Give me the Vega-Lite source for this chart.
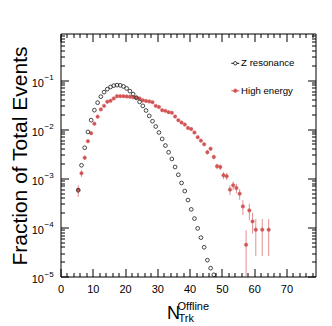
{
  "$schema": "https://vega.github.io/schema/vega-lite/v6.json",
  "width": 255,
  "height": 243,
  "autosize": {"type": "none"},
  "padding": {"left": 60.5, "top": 33.5, "right": 16.5, "bottom": 49.5},
  "background": "white",
  "config": {
    "font": "Liberation Sans",
    "view": {"stroke": "#000", "strokeWidth": 1},
    "axis": {"domain": false, "grid": false, "tickColor": "#000", "tickWidth": 1, "labelColor": "#000", "titleColor": "#000", "titleFontWeight": "normal", "labelFont": "Liberation Sans", "titleFont": "Liberation Sans", "labelFlush": false, "labelOverlap": false, "labelBound": false}
  },
  "datasets": {
    "z": [
      {"x": 5.5, "y": 0.000569, "series": "Z resonance"},
      {"x": 6.5, "y": 0.001842, "series": "Z resonance"},
      {"x": 7.5, "y": 0.00419, "series": "Z resonance"},
      {"x": 8.5, "y": 0.00881, "series": "Z resonance"},
      {"x": 9.5, "y": 0.01527, "series": "Z resonance"},
      {"x": 10.5, "y": 0.02442, "series": "Z resonance"},
      {"x": 11.5, "y": 0.03474, "series": "Z resonance"},
      {"x": 12.5, "y": 0.04604, "series": "Z resonance"},
      {"x": 13.5, "y": 0.05689, "series": "Z resonance"},
      {"x": 14.5, "y": 0.06553, "series": "Z resonance"},
      {"x": 15.5, "y": 0.07263, "series": "Z resonance"},
      {"x": 16.5, "y": 0.07721, "series": "Z resonance"},
      {"x": 17.5, "y": 0.07907, "series": "Z resonance"},
      {"x": 18.5, "y": 0.07833, "series": "Z resonance"},
      {"x": 19.5, "y": 0.07436, "series": "Z resonance"},
      {"x": 20.5, "y": 0.06769, "series": "Z resonance"},
      {"x": 21.5, "y": 0.05963, "series": "Z resonance"},
      {"x": 22.5, "y": 0.05181, "series": "Z resonance"},
      {"x": 23.5, "y": 0.04375, "series": "Z resonance"},
      {"x": 24.5, "y": 0.03607, "series": "Z resonance"},
      {"x": 25.5, "y": 0.02988, "series": "Z resonance"},
      {"x": 26.5, "y": 0.02407, "series": "Z resonance"},
      {"x": 27.5, "y": 0.01867, "series": "Z resonance"},
      {"x": 28.5, "y": 0.01456, "series": "Z resonance"},
      {"x": 29.5, "y": 0.01135, "series": "Z resonance"},
      {"x": 30.5, "y": 0.00857, "series": "Z resonance"},
      {"x": 31.5, "y": 0.00634, "series": "Z resonance"},
      {"x": 32.5, "y": 0.00465, "series": "Z resonance"},
      {"x": 33.5, "y": 0.00339, "series": "Z resonance"},
      {"x": 34.5, "y": 0.00248, "series": "Z resonance"},
      {"x": 35.5, "y": 0.0017, "series": "Z resonance"},
      {"x": 36.5, "y": 0.001179, "series": "Z resonance"},
      {"x": 37.5, "y": 0.000802, "series": "Z resonance"},
      {"x": 38.5, "y": 0.00055, "series": "Z resonance"},
      {"x": 39.5, "y": 0.000361, "series": "Z resonance"},
      {"x": 40.5, "y": 0.000233, "series": "Z resonance"},
      {"x": 41.5, "y": 0.0001512, "series": "Z resonance"},
      {"x": 42.5, "y": 0.0000954, "series": "Z resonance"},
      {"x": 43.5, "y": 0.0000619, "series": "Z resonance"},
      {"x": 44.5, "y": 0.0000394, "series": "Z resonance"},
      {"x": 45.5, "y": 0.0000215, "series": "Z resonance"},
      {"x": 46.5, "y": 0.00001477, "series": "Z resonance"},
      {"x": 47.5, "y": 0.00001083, "series": "Z resonance"}
    ],
    "he": [
      {"x": 5.5, "y": 0.000583, "lo": 0.00042, "hi": 0.00072, "series": "High energy"},
      {"x": 6.5, "y": 0.001265, "lo": 0.00107, "hi": 0.00146, "series": "High energy"},
      {"x": 7.5, "y": 0.00262, "lo": 0.00234, "hi": 0.0029, "series": "High energy"},
      {"x": 8.5, "y": 0.00569, "lo": 0.00528, "hi": 0.0061, "series": "High energy"},
      {"x": 9.5, "y": 0.00829, "lo": 0.00779, "hi": 0.00879, "series": "High energy"},
      {"x": 10.5, "y": 0.01295, "lo": 0.01233, "hi": 0.01357, "series": "High energy"},
      {"x": 11.5, "y": 0.01799, "lo": 0.01726, "hi": 0.01872, "series": "High energy"},
      {"x": 12.5, "y": 0.02535, "lo": 0.02448, "hi": 0.02622, "series": "High energy"},
      {"x": 13.5, "y": 0.02988, "lo": 0.02893, "hi": 0.03083, "series": "High energy"},
      {"x": 14.5, "y": 0.0364, "lo": 0.03535, "hi": 0.03745, "series": "High energy"},
      {"x": 15.5, "y": 0.03781, "lo": 0.03674, "hi": 0.03888, "series": "High energy"},
      {"x": 16.5, "y": 0.04232, "lo": 0.04119, "hi": 0.04345, "series": "High energy"},
      {"x": 17.5, "y": 0.04715, "lo": 0.04596, "hi": 0.04834, "series": "High energy"},
      {"x": 18.5, "y": 0.04715, "lo": 0.04596, "hi": 0.04834, "series": "High energy"},
      {"x": 19.5, "y": 0.04715, "lo": 0.04596, "hi": 0.04834, "series": "High energy"},
      {"x": 20.5, "y": 0.04648, "lo": 0.0453, "hi": 0.04766, "series": "High energy"},
      {"x": 21.5, "y": 0.04561, "lo": 0.04444, "hi": 0.04678, "series": "High energy"},
      {"x": 22.5, "y": 0.04456, "lo": 0.0434, "hi": 0.04572, "series": "High energy"},
      {"x": 23.5, "y": 0.04393, "lo": 0.04278, "hi": 0.04508, "series": "High energy"},
      {"x": 24.5, "y": 0.04232, "lo": 0.04119, "hi": 0.04345, "series": "High energy"},
      {"x": 25.5, "y": 0.0387, "lo": 0.03762, "hi": 0.03978, "series": "High energy"},
      {"x": 26.5, "y": 0.03763, "lo": 0.03657, "hi": 0.03869, "series": "High energy"},
      {"x": 27.5, "y": 0.03674, "lo": 0.03569, "hi": 0.03779, "series": "High energy"},
      {"x": 28.5, "y": 0.03556, "lo": 0.03453, "hi": 0.03659, "series": "High energy"},
      {"x": 29.5, "y": 0.02988, "lo": 0.02893, "hi": 0.03083, "series": "High energy"},
      {"x": 30.5, "y": 0.02838, "lo": 0.02746, "hi": 0.0293, "series": "High energy"},
      {"x": 31.5, "y": 0.02442, "lo": 0.02356, "hi": 0.02528, "series": "High energy"},
      {"x": 32.5, "y": 0.02363, "lo": 0.02279, "hi": 0.02447, "series": "High energy"},
      {"x": 33.5, "y": 0.02223, "lo": 0.02141, "hi": 0.02305, "series": "High energy"},
      {"x": 34.5, "y": 0.02161, "lo": 0.0208, "hi": 0.02242, "series": "High energy"},
      {"x": 35.5, "y": 0.01816, "lo": 0.01742, "hi": 0.0189, "series": "High energy"},
      {"x": 36.5, "y": 0.01527, "lo": 0.01459, "hi": 0.01595, "series": "High energy"},
      {"x": 37.5, "y": 0.01364, "lo": 0.013, "hi": 0.01428, "series": "High energy"},
      {"x": 38.5, "y": 0.01241, "lo": 0.0118, "hi": 0.01302, "series": "High energy"},
      {"x": 39.5, "y": 0.01063, "lo": 0.01007, "hi": 0.01119, "series": "High energy"},
      {"x": 40.5, "y": 0.01005, "lo": 0.0095, "hi": 0.0106, "series": "High energy"},
      {"x": 41.5, "y": 0.00857, "lo": 0.00806, "hi": 0.00908, "series": "High energy"},
      {"x": 42.5, "y": 0.00687, "lo": 0.00642, "hi": 0.00732, "series": "High energy"},
      {"x": 43.5, "y": 0.00585, "lo": 0.00543, "hi": 0.00627, "series": "High energy"},
      {"x": 44.5, "y": 0.00492, "lo": 0.00454, "hi": 0.0053, "series": "High energy"},
      {"x": 45.5, "y": 0.00339, "lo": 0.00307, "hi": 0.00371, "series": "High energy"},
      {"x": 46.5, "y": 0.004, "lo": 0.00365, "hi": 0.00435, "series": "High energy"},
      {"x": 47.5, "y": 0.00272, "lo": 0.00243, "hi": 0.00301, "series": "High energy"},
      {"x": 48.5, "y": 0.001757, "lo": 0.001527, "hi": 0.001987, "series": "High energy"},
      {"x": 49.5, "y": 0.0017, "lo": 0.001474, "hi": 0.001926, "series": "High energy"},
      {"x": 50.5, "y": 0.001151, "lo": 0.000965, "hi": 0.001337, "series": "High energy"},
      {"x": 51.5, "y": 0.001099, "lo": 0.000917, "hi": 0.001281, "series": "High energy"},
      {"x": 52.5, "y": 0.000588, "lo": 0.000455, "hi": 0.000721, "series": "High energy"},
      {"x": 53.5, "y": 0.00072, "lo": 0.000573, "hi": 0.000867, "series": "High energy"},
      {"x": 54.5, "y": 0.000634, "lo": 0.000496, "hi": 0.000772, "series": "High energy"},
      {"x": 55.5, "y": 0.000487, "lo": 0.000366, "hi": 0.000608, "series": "High energy"},
      {"x": 56.5, "y": 0.000268, "lo": 0.000178, "hi": 0.000358, "series": "High energy"},
      {"x": 57.5, "y": 0.0000443, "lo": 0.000001, "hi": 0.0000869, "series": "High energy"},
      {"x": 58.5, "y": 0.000222, "lo": 0.00014, "hi": 0.000304, "series": "High energy"},
      {"x": 59.5, "y": 0.0001326, "lo": 0.000075, "hi": 0.0002, "series": "High energy"},
      {"x": 60.5, "y": 0.0000898, "lo": 0.000026, "hi": 0.000148, "series": "High energy"},
      {"x": 62.5, "y": 0.0000898, "lo": 0.000026, "hi": 0.000148, "series": "High energy"},
      {"x": 64.5, "y": 0.0000898, "lo": 0.000026, "hi": 0.000148, "series": "High energy"}
    ]
  },
  "layer": [
    {
      "data": {"name": "he"},
      "mark": {"type": "rule", "color": "#d35454", "opacity": 0.65, "strokeWidth": 1, "clip": true},
      "encoding": {
        "x": {"field": "x", "type": "quantitative", "scale": {"domain": [0, 79], "nice": false, "zero": false},
          "axis": {"orient": "top", "values": [0,2,4,6,8,10,12,14,16,18,20,22,24,26,28,30,32,34,36,38,40,42,44,46,48,50,52,54,56,58,60,62,64,66,68,70,72,74,76,78],
            "tickSize": {"condition": {"test": "datum.value % 10 === 0", "value": -8}, "value": -4},
            "labels": false, "title": "Offline", "titleFontSize": 11, "titleX": 116.5, "titleY": 276, "titleAlign": "left", "titleBaseline": "alphabetic", "titleAngle": 0}},
        "y": {"field": "lo", "type": "quantitative", "scale": {"type": "log", "domain": [0.00001, 0.89], "nice": false},
          "axis": {"orient": "right", "values": [0.00001,0.00002,0.00003,0.00004,0.00005,0.00006,0.00007,0.00008,0.00009,0.0001,0.0002,0.0003,0.0004,0.0005,0.0006,0.0007,0.0008,0.0009,0.001,0.002,0.003,0.004,0.005,0.006,0.007,0.008,0.009,0.01,0.02,0.03,0.04,0.05,0.06,0.07,0.08,0.09,0.1,0.2,0.3,0.4,0.5,0.6,0.7,0.8],
            "tickSize": {"condition": {"test": "abs(log(datum.value)/LN10 - round(log(datum.value)/LN10)) < 0.001", "value": -8}, "value": -4},
            "labels": false, "title": null}},
        "y2": {"field": "hi"}
      }
    },
    {
      "data": {"name": "he"},
      "mark": {"type": "point", "shape": "circle", "size": 12, "strokeWidth": 0.5, "opacity": 1},
      "encoding": {
        "x": {"field": "x", "type": "quantitative", "scale": {"domain": [0, 79], "nice": false, "zero": false},
          "axis": {"orient": "bottom", "ticks": false, "labels": false, "title": "Trk", "titleFontSize": 11, "titleX": 117.5, "titleY": 44.5, "titleAlign": "left", "titleBaseline": "alphabetic", "titleAngle": 0}},
        "y": {"field": "y", "type": "quantitative", "scale": {"type": "log", "domain": [0.00001, 0.89], "nice": false},
          "axis": {"orient": "left", "values": [0.00001, 0.0001, 0.001, 0.01, 0.1], "ticks": false, "labelExpr": "'\u2212' + (-round(log(datum.value)/LN10))", "labelAlign": "left", "labelPadding": 16.5, "labelFontSize": 8, "labelOffset": -2.5, "title": null}},
        "fill": {"field": "series", "type": "nominal", "scale": {"domain": ["Z resonance", "High energy"], "range": ["transparent", "#d35454"]},
          "legend": {"title": null, "orient": "none", "legendX": 170, "legendY": 25, "symbolType": "M-1,0L-0.42,0M0.42,0L1,0M-0.42,0A0.42,0.42,0,1,1,0.42,0A0.42,0.42,0,1,1,-0.42,0", "symbolSize": 64, "symbolStrokeWidth": 1, "labelFontSize": 9.6, "labelOffset": 1, "rowPadding": 16.5, "padding": 0, "labelColor": "#000"}},
        "stroke": {"field": "series", "type": "nominal", "scale": {"domain": ["Z resonance", "High energy"], "range": ["#1a1a1a", "#d35454"]},
          "legend": {"title": null, "orient": "none", "legendX": 170, "legendY": 25, "symbolType": "M-1,0L-0.42,0M0.42,0L1,0M-0.42,0A0.42,0.42,0,1,1,0.42,0A0.42,0.42,0,1,1,-0.42,0", "symbolSize": 64, "symbolStrokeWidth": 1, "labelFontSize": 9.6, "labelOffset": 1, "rowPadding": 16.5, "padding": 0, "labelColor": "#000"}}
      }
    },
    {
      "data": {"name": "z"},
      "mark": {"type": "point", "shape": "circle", "size": 14, "strokeWidth": 0.8, "opacity": 1},
      "encoding": {
        "x": {"field": "x", "type": "quantitative", "scale": {"domain": [0, 79], "nice": false, "zero": false},
          "axis": {"orient": "bottom", "values": [0,2,4,6,8,10,12,14,16,18,20,22,24,26,28,30,32,34,36,38,40,42,44,46,48,50,52,54,56,58,60,62,64,66,68,70,72,74,76,78],
            "tickSize": {"condition": {"test": "datum.value % 10 === 0", "value": -8}, "value": -4},
            "labelExpr": "datum.value % 10 === 0 ? datum.label : ''", "labelFontSize": 11, "labelPadding": 15,
            "title": "N", "titleFontSize": 18, "titleX": 106, "titleY": 41.5, "titleAlign": "left", "titleBaseline": "alphabetic", "titleAngle": 0}},
        "y": {"field": "y", "type": "quantitative", "scale": {"type": "log", "domain": [0.00001, 0.89], "nice": false},
          "axis": {"orient": "left", "values": [0.00001,0.00002,0.00003,0.00004,0.00005,0.00006,0.00007,0.00008,0.00009,0.0001,0.0002,0.0003,0.0004,0.0005,0.0006,0.0007,0.0008,0.0009,0.001,0.002,0.003,0.004,0.005,0.006,0.007,0.008,0.009,0.01,0.02,0.03,0.04,0.05,0.06,0.07,0.08,0.09,0.1,0.2,0.3,0.4,0.5,0.6,0.7,0.8],
            "tickSize": {"condition": {"test": "abs(log(datum.value)/LN10 - round(log(datum.value)/LN10)) < 0.001", "value": -8}, "value": -4},
            "labelExpr": "abs(log(datum.value)/LN10 - round(log(datum.value)/LN10)) < 0.001 ? '10' : ''", "labelFontSize": 11, "labelPadding": 25, "labelOffset": 3,
            "title": "Fraction of Total Events", "titleFontSize": 21, "titleAngle": -90, "titleX": -34, "titleY": 12.5, "titleAlign": "right", "titleBaseline": "alphabetic"}},
        "fill": {"field": "series", "type": "nominal", "scale": {"domain": ["Z resonance", "High energy"], "range": ["transparent", "#d35454"]}},
        "stroke": {"field": "series", "type": "nominal", "scale": {"domain": ["Z resonance", "High energy"], "range": ["#1a1a1a", "#d35454"]}}
      }
    }
  ],
  "resolve": {"axis": {"x": "independent", "y": "independent"}}
}
